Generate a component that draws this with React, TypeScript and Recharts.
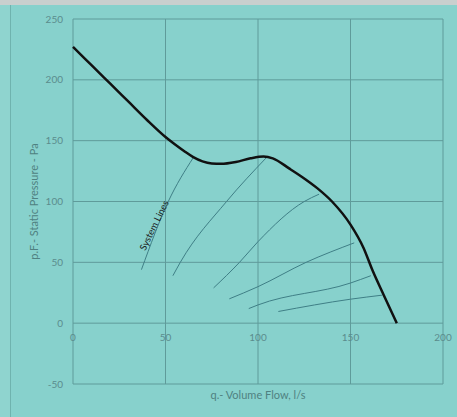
import {
  LineChart,
  Line,
  XAxis,
  YAxis,
  CartesianGrid,
  ReferenceDot,
} from "recharts";

// fan curve (q in l/s, p in Pa)
const fanFlow = [0, 10, 20, 30, 40, 50, 55, 60, 65, 70, 75, 80, 88, 96, 103, 108, 117, 124, 132, 140, 150, 157, 162, 168, 175];
const fanPressure = [227, 212, 197, 182, 167, 153, 147, 141.5, 136.5, 133, 131.3, 131, 132.5, 135.5, 137, 135.5, 127, 120, 111, 100, 81, 62, 43, 23, 0];

// system lines
const sys1Flow = [37, 51.5, 65];
const sys1Pressure = [44, 100, 136];
const sys2Flow = [54, 58, 83, 104.5];
const sys2Pressure = [39, 50, 100, 136];
const sys3Flow = [76, 90, 100, 125, 133];
const sys3Pressure = [29, 50, 67, 100, 106];
const sys4Flow = [84.5, 100, 126, 152];
const sys4Pressure = [20, 30, 50, 66];
const sys5Flow = [95, 100, 150, 161];
const sys5Pressure = [12, 15, 33, 39];
const sys6Flow = [111, 150, 167];
const sys6Pressure = [9.6, 19.7, 23];

const xTicks = [0, 50, 100, 150, 200];
const yTicks = [-50, 0, 50, 100, 150, 200, 250];

const toPoints = (q: number[], p: number[]) => q.map((v, i) => ({ q: v, p: p[i] }));

const fanData = toPoints(fanFlow, fanPressure);
const systemData = [
  toPoints(sys1Flow, sys1Pressure),
  toPoints(sys2Flow, sys2Pressure),
  toPoints(sys3Flow, sys3Pressure),
  toPoints(sys4Flow, sys4Pressure),
  toPoints(sys5Flow, sys5Pressure),
  toPoints(sys6Flow, sys6Pressure),
];

const tickColor = "#5b8c8c";
const font = "Lato, 'Open Sans', sans-serif";

// x tick labels sit under the p = 0 line, not at the bottom of the plot
const XTick = ({ x, y, payload }: any) => (
  <text x={x} y={y - 43} textAnchor="middle" fill={tickColor} fontSize={10} fontFamily={font}>
    {payload.value}
  </text>
);

export default function App() {
  return (
    <div
      style={{
        position: "absolute",
        left: 0,
        top: 0,
        width: 457,
        height: 417,
        background: "#87d1cc",
        overflow: "hidden",
      }}
    >
      <div style={{ position: "absolute", left: 0, top: 0, width: 457, height: 5, background: "#c9cfce" }} />
      <div
        style={{
          position: "absolute",
          left: 0,
          top: 5,
          width: 10,
          height: 412,
          background: "#8fd4cf",
          borderRight: "1px solid #6fb3ae",
        }}
      />
      <div style={{ position: "absolute", left: 0, top: 0 }}>
        <LineChart width={457} height={417} margin={{ top: 19, right: 14, bottom: 3, left: 0 }}>
          <CartesianGrid stroke="#5f9b9a" strokeWidth={1} horizontalValues={yTicks} verticalValues={xTicks} />
          <XAxis
            dataKey="q"
            type="number"
            domain={[0, 200]}
            ticks={xTicks}
            axisLine={false}
            tickLine={false}
            tickSize={0}
            tickMargin={0}
            height={30}
            tick={<XTick />}
            label={{
              value: "q.- Volume Flow, l/s",
              position: "center",
              dy: -4,
              fill: "#4f8181",
              fontSize: 11,
              fontFamily: font,
            }}
          />
          <YAxis
            type="number"
            domain={[-50, 250]}
            ticks={yTicks}
            axisLine={false}
            tickLine={false}
            tickSize={0}
            tickMargin={10}
            width={73}
            tick={{ fill: tickColor, fontSize: 10, fontFamily: font }}
            label={{
              value: "p.F.- Static Pressure - Pa",
              angle: -90,
              position: "center",
              dx: -2,
              fill: "#4f8181",
              fontSize: 11,
              fontFamily: font,
            }}
          />
          {systemData.map((d, i) => (
            <Line
              key={i}
              data={d}
              dataKey="p"
              type="monotone"
              stroke="#3f7f86"
              strokeWidth={1}
              dot={false}
              isAnimationActive={false}
            />
          ))}
          <Line
            data={fanData}
            dataKey="p"
            type="monotone"
            stroke="#111"
            strokeWidth={2.5}
            dot={false}
            isAnimationActive={false}
          />
          <ReferenceDot
            x={44.3}
            y={80}
            r={0}
            shape={(props: any) => (
              <text
                x={props.cx}
                y={props.cy}
                transform={`rotate(-64 ${props.cx} ${props.cy})`}
                textAnchor="middle"
                dominantBaseline="middle"
                fontSize={9.5}
                fontFamily={font}
                fill="#1a1a1a"
              >
                System Lines
              </text>
            )}
          />
        </LineChart>
      </div>
    </div>
  );
}
